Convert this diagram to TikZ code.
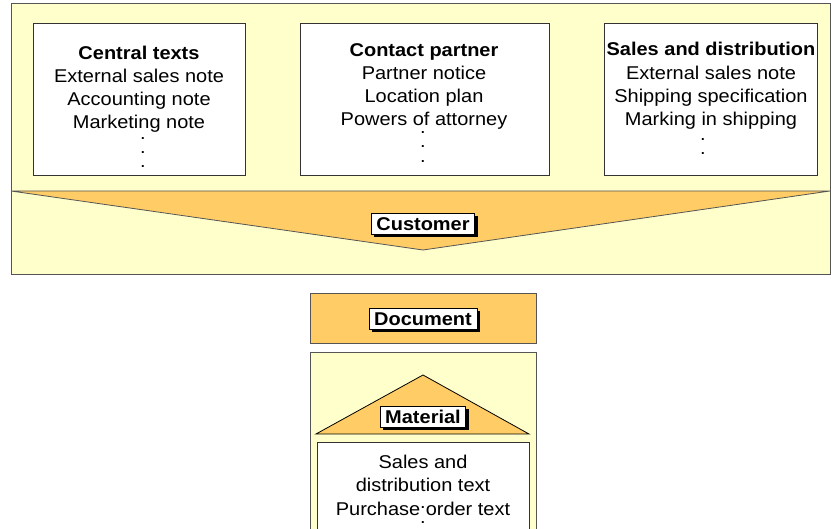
\documentclass[tikz,border=0pt]{standalone}
\usepackage{fontspec}
\setmainfont{Liberation Sans}[FakeStretch=1.08]
\usetikzlibrary{shadows}
\definecolor{paleY}{HTML}{FFFFCC}
\definecolor{orng}{HTML}{FFCC66}
\definecolor{edge}{HTML}{555555}
\begin{document}
\begin{tikzpicture}[x=1pt,y=-1pt,
  txt/.style={font=\fontsize{18.5}{23}\selectfont, inner sep=0pt, anchor=base},
  ttl/.style={txt, font=\bfseries\fontsize{18.5}{23}\selectfont},
  dotc/.style={txt},
  panel/.style={draw=edge, line width=0.8pt},
  box/.style={draw=black!80, fill=white, line width=0.8pt},
  lbl/.style={draw=black, fill=white, font=\bfseries\fontsize{18.5}{20}\selectfont,
    text height=14.5pt, text depth=0pt, inner xsep=5pt, inner ysep=3pt, line width=0.6pt,
    anchor=base, general shadow={fill=black, shadow xshift=3pt, shadow yshift=-3pt}}]
\useasboundingbox (0,0) rectangle (831,529);
\clip (0,0) rectangle (831,529);
% top panel
\filldraw[panel, fill=paleY] (11,3) rectangle (830,274);
\filldraw[panel, fill=orng] (11,191) -- (830,191) -- (423,250) -- cycle;
\filldraw[box] (33,23) rectangle (245,175);
\filldraw[box] (300,23) rectangle (549,175);
\filldraw[box] (604,23) rectangle (817,175);
% box 1
\node[ttl] (c0) at (139,60) {Central texts};
\node[txt] (c1) at (139,83) {External sales note};
\node[txt] (c2) at (139,106) {Accounting note};
\node[txt] (c3) at (139,129) {Marketing note};
\node[dotc] (cd1) at (143,140) {.};
\node[dotc] (cd2) at (143,154) {.};
\node[dotc] (cd3) at (143,168) {.};
% box 2
\node[ttl] (p0) at (424,57) {Contact partner};
\node[txt] (p1) at (424,80) {Partner notice};
\node[txt] (p2) at (424,103) {Location plan};
\node[txt] (p3) at (424,126) {Powers of attorney};
\node[dotc] (pd1) at (423,134) {.};
\node[dotc] (pd2) at (423,148) {.};
\node[dotc] (pd3) at (423,163) {.};
% box 3
\node[ttl] (s0) at (711,56) {Sales and distribution};
\node[txt] (s1) at (711,80) {External sales note};
\node[txt] (s2) at (711,103) {Shipping specification};
\node[txt] (s3) at (711,126) {Marking in shipping};
\node[dotc] (sd1) at (703,141) {.};
\node[dotc] (sd2) at (703,155) {.};
% customer label
\node[lbl] (cust) at (423,231) {Customer};
% document
\filldraw[panel, fill=orng] (310,293) rectangle (536,343);
\node[lbl] (doc) at (423,326) {Document};
% lower panel
\filldraw[panel, fill=paleY] (310,352) rectangle (536,540);
\filldraw[draw=black, line width=0.8pt, fill=orng] (316,434) -- (423,375) -- (529,434) -- cycle;
\node[lbl] (mat) at (423,424) {Material};
\filldraw[box] (317,442) rectangle (529,540);
\node[txt] (m1) at (423,469) {Sales and};
\node[txt] (m2) at (423,492) {distribution text};
\node[txt] (m3) at (423,515) {Purchase order text};
\node[dotc] (md1) at (423,508) {.};
\node[dotc] (md2) at (423,523) {.};
\end{tikzpicture}
\end{document}
